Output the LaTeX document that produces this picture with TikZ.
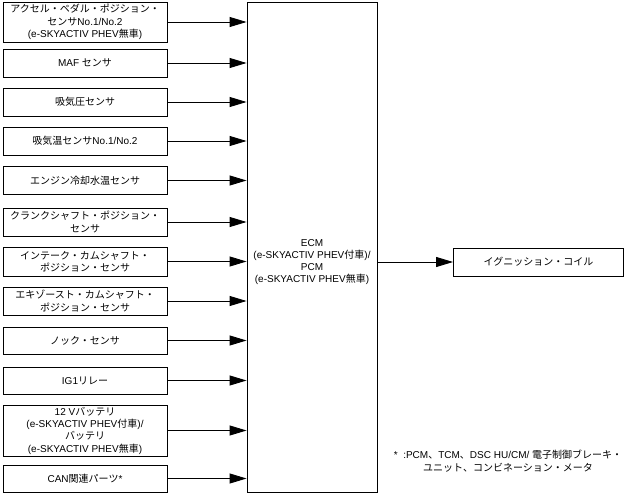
\documentclass[tikz,border=0pt]{standalone}
\usepackage{fontspec}
\setmainfont{Liberation Sans}
\newfontfamily\jpfont{Noto Sans CJK JP}
\newcommand{\J}[1]{{\jpfont #1}}
\usetikzlibrary{arrows.meta}
\begin{document}
\begin{tikzpicture}[x=1pt,y=-1pt,
  every node/.style={font=\fontsize{10}{12.3}\selectfont},
  src/.style={draw,line width=0.9pt,minimum width=164pt,inner sep=0pt,align=center},
  conn/.style={line width=0.9pt,-{Triangle[length=17pt,width=10pt]}}]
\useasboundingbox (0,0) rectangle (628,494);
% sources: center y, height
\node[src,minimum height=40pt] (s1) at (85,22) {\J{アクセル・ペダル・ポジション・}\\\J{センサ}No.1/No.2\\(e-SKYACTIV PHEV\J{無車})};
\node[src,minimum height=28pt] (s2) at (85,63) {MAF \J{センサ}};
\node[src,minimum height=28pt] (s3) at (85,102) {\J{吸気圧センサ}};
\node[src,minimum height=28pt] (s4) at (85,141) {\J{吸気温センサ}No.1/No.2};
\node[src,minimum height=28pt] (s5) at (85,180.5) {\J{エンジン冷却水温センサ}};
\node[src,minimum height=28pt] (s6) at (85,222) {\J{クランクシャフト・ポジション・}\\\J{センサ}};
\node[src,minimum height=29pt] (s7) at (85,261.5) {\J{インテーク・カムシャフト・}\\\J{ポジション・センサ}};
\node[src,minimum height=28pt] (s8) at (85,301) {\J{エキゾースト・カムシャフト・}\\\J{ポジション・センサ}};
\node[src,minimum height=27pt] (s9) at (85,340.5) {\J{ノック・センサ}};
\node[src,minimum height=27pt] (s10) at (85,380.5) {IG1\J{リレー}};
\node[src,minimum height=51pt] (s11) at (85,430.5) {12 V\J{バッテリ}\\(e-SKYACTIV PHEV\J{付車})/\\\J{バッテリ}\\(e-SKYACTIV PHEV\J{無車})};
\node[src,minimum height=27pt] (s12) at (85,478.5) {CAN\J{関連パーツ}*};
% ECM
\node[draw,line width=0.9pt,minimum width=130pt,minimum height=490pt,inner sep=0pt] (ecm) at (312,247) {};
\node[align=center,inner sep=0pt] (ecmtext) at (312,262) {ECM\\(e-SKYACTIV PHEV\J{付車})/\\PCM\\(e-SKYACTIV PHEV\J{無車})};
% ignition coil
\node[draw,line width=0.9pt,minimum width=170pt,minimum height=28pt,inner sep=0pt] (ign) at (538.5,262) {\J{イグニッション・コイル}};
% connectors
\foreach \i in {1,...,12} {
  \draw[conn] (s\i.east) -- (ecm.west |- s\i.east);
}
\draw[conn] (ecm.east |- ign.west) -- (ign.west);
% footnote
\node[align=center,inner sep=0pt] (note) at (508,461) {*\ \ :PCM\J{、}TCM\J{、}DSC HU/CM/ \J{電子制御ブレーキ・}\\\J{ユニット、コンビネーション・メータ}};
\end{tikzpicture}
\end{document}
